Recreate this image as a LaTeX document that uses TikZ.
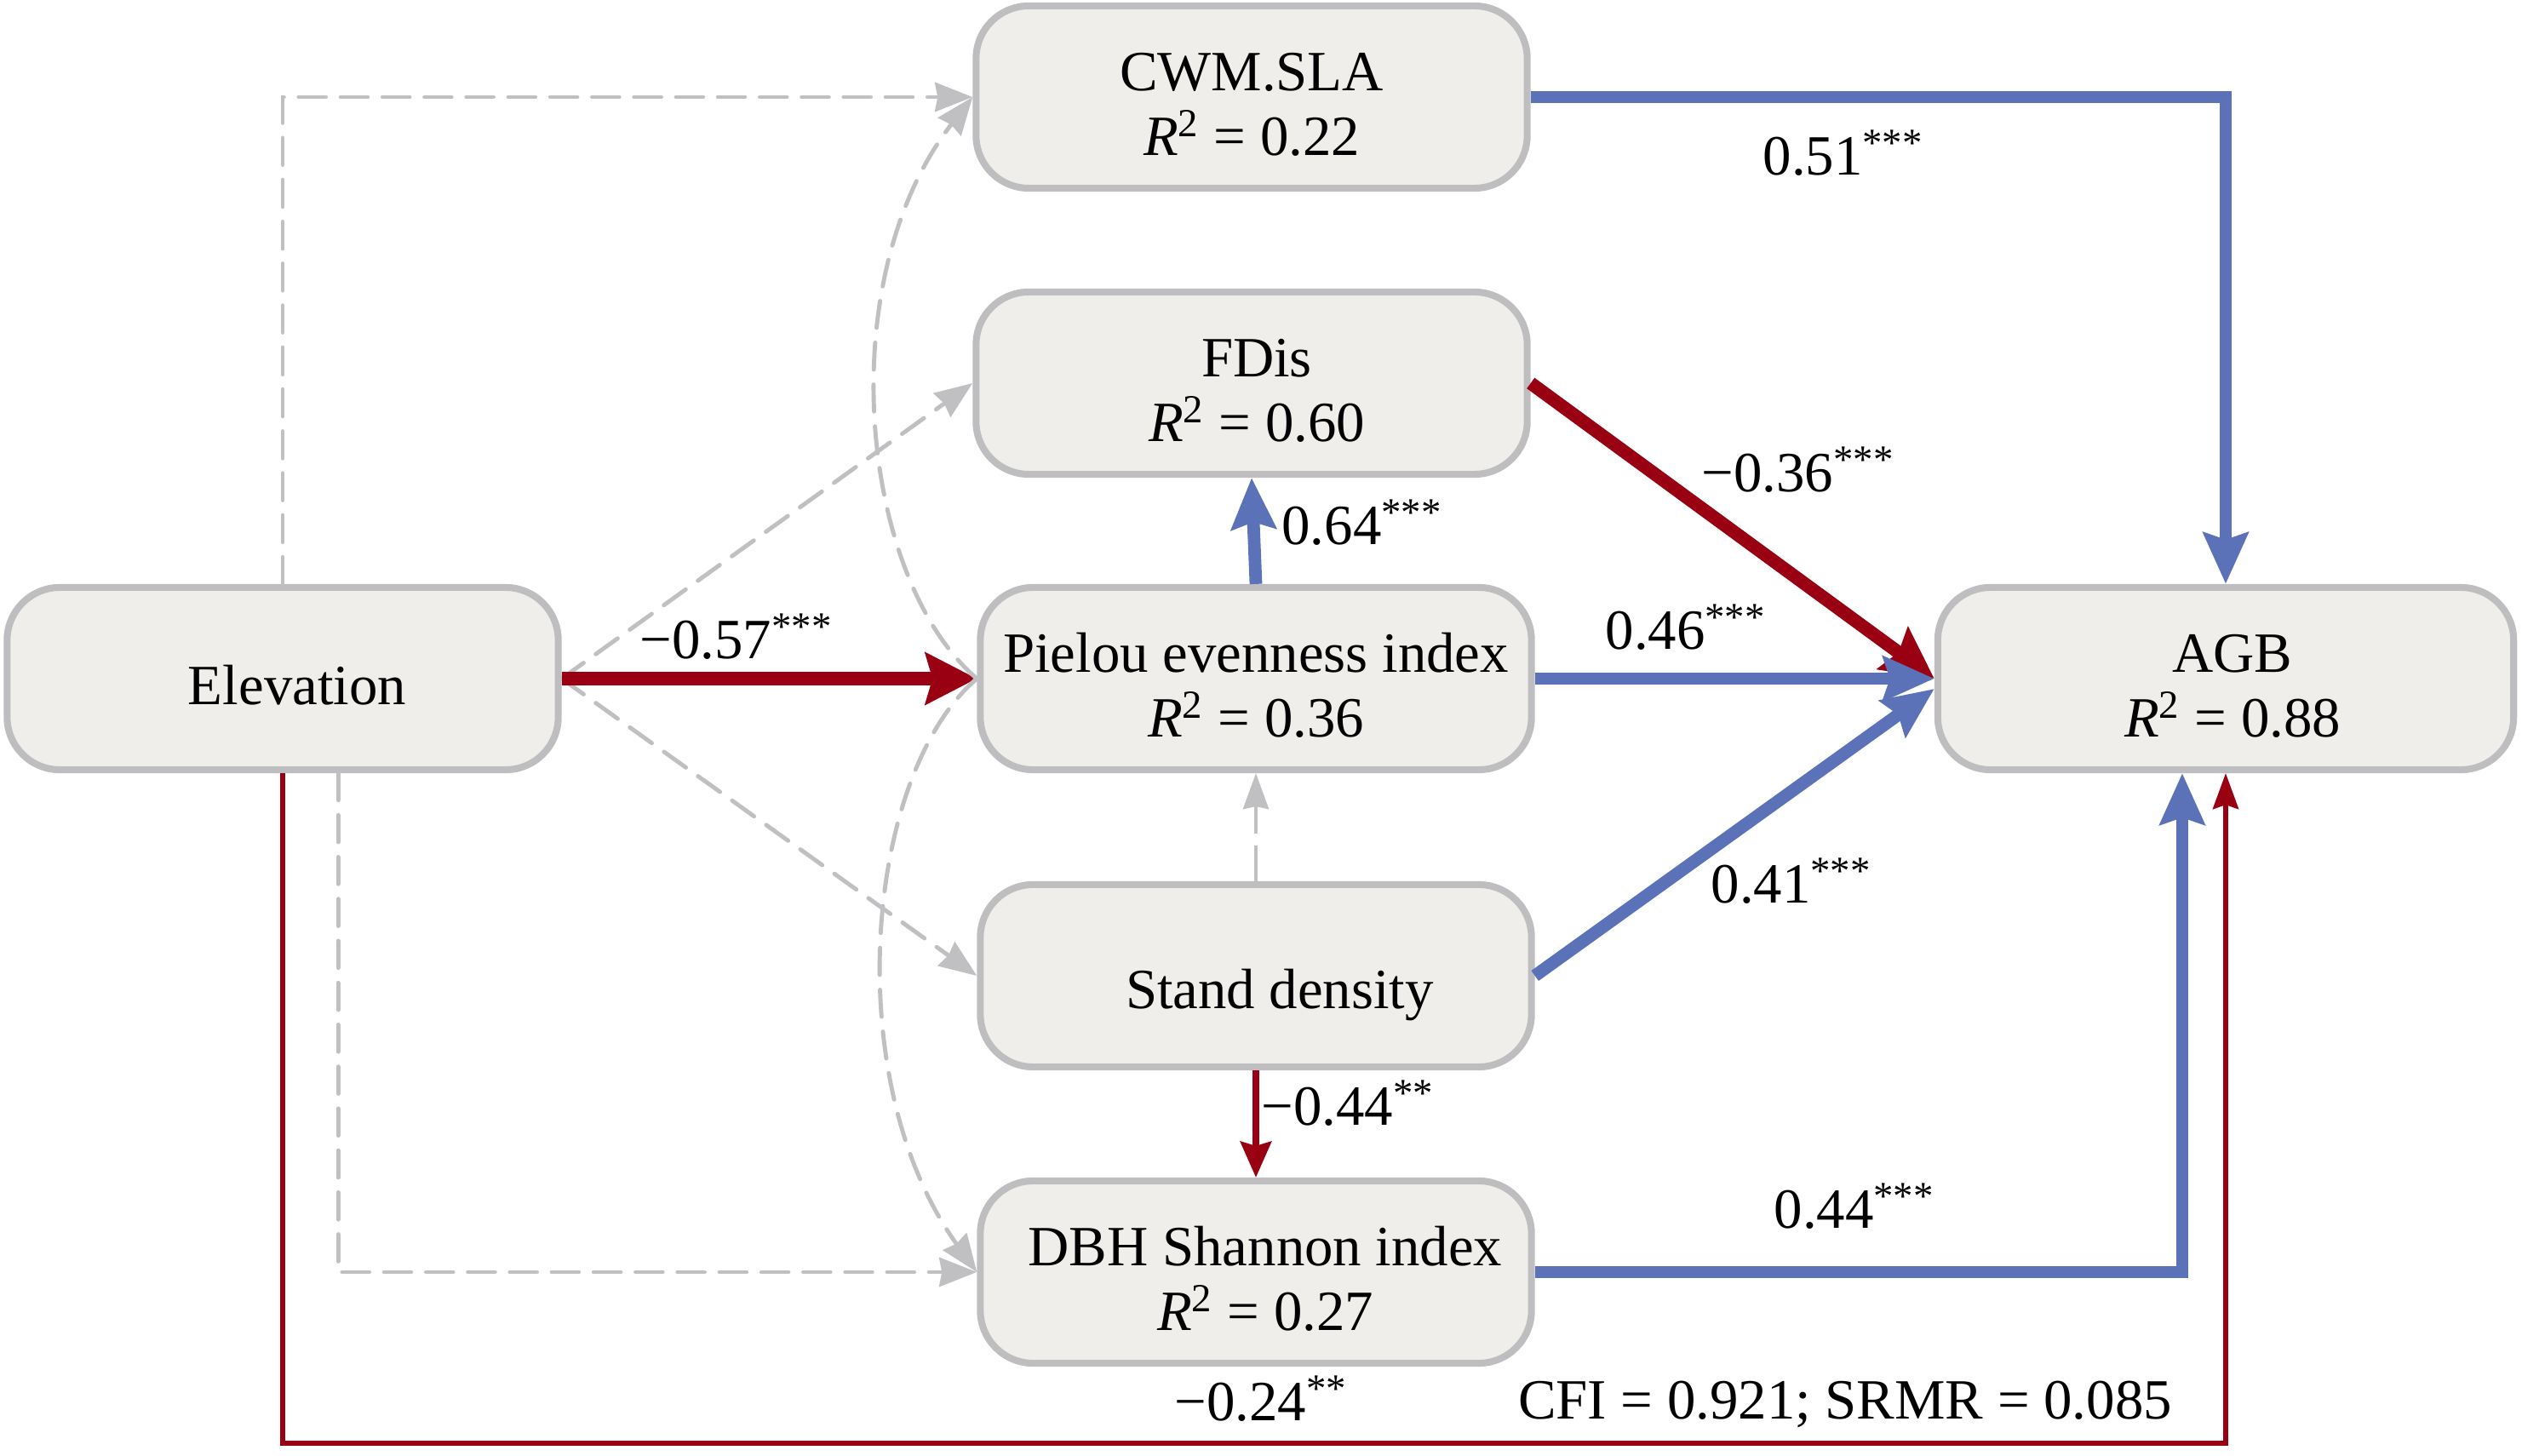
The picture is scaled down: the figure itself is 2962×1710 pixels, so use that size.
\documentclass[tikz,border=0pt]{standalone}
\usepackage{fontspec}
\setmainfont{Liberation Serif}
\usetikzlibrary{arrows.meta,calc}
\definecolor{boxfill}{RGB}{239,238,235}
\definecolor{boxline}{RGB}{190,189,192}
\definecolor{pathred}{RGB}{153,0,17}
\definecolor{pathblue}{RGB}{91,114,185}
\definecolor{dashgray}{RGB}{192,191,194}
\newcommand\RRsq{\textit{R}\textsuperscript{2}}
\newcommand\sigmark[1]{\textsuperscript{#1}}
\newcommand\tstrut[1]{\rule{0pt}{#1}}
\begin{document}
\begin{tikzpicture}[x=0.01cm,y=-0.01cm,
 box/.style={draw=boxline, fill=boxfill, line width=2.3pt, rounded corners=0.62cm,
   minimum width=6.47cm, minimum height=2.14cm, align=center, inner sep=0pt,
   font=\fontsize{19}{21.5}\selectfont},
 coef/.style={font=\fontsize{19}{22}\selectfont, inner sep=0pt},
 thickblue/.style={draw=pathblue, line width=4.2pt, -{Stealth[length=0.6cm,width=0.52cm,inset=0.08cm]}},
 thickred/.style={draw=pathred, line width=4.4pt, -{Stealth[length=0.6cm,width=0.6cm,inset=0.08cm]}},
 thinred/.style={draw=pathred, line width=1.5pt, -{Stealth[length=0.42cm,width=0.3cm,inset=0.05cm]}},
 medred/.style={draw=pathred, line width=2.1pt, -{Stealth[length=0.42cm,width=0.36cm,inset=0.05cm]}},
 gdash/.style={draw=dashgray, line width=1.4pt, line cap=round, dash pattern=on 9pt off 5pt,
   -{Stealth[length=0.44cm,width=0.34cm,inset=0.03cm]}},
 gthin/.style={draw=dashgray, line width=1pt, dash pattern=on 12pt off 4pt,
   -{Stealth[length=0.42cm,width=0.3cm,inset=0.03cm]}},
]
\useasboundingbox (0,0) rectangle (2962,1710);

% nodes
\node[box] (Elev) at (332,797) {\tstrut{17.3pt}\hspace*{0.34cm}Elevation};
\node[box] (CWM) at (1470,114) {\tstrut{17.5pt}CWM.SLA\\\RRsq{} = 0.22};
\node[box] (FDis) at (1470,450) {\tstrut{17.5pt}\hspace*{0.12cm}FDis\\\hspace*{0.12cm}\RRsq{} = 0.60};
\node[box] (Pielou) at (1475,797) {\tstrut{17.5pt}Pielou evenness index\\\RRsq{} = 0.36};
\node[box] (Stand) at (1475,1146) {\tstrut{26pt}\hspace*{0.56cm}Stand density};
\node[box] (DBH) at (1475,1494) {\tstrut{17.5pt}\hspace*{0.22cm}DBH Shannon index\\\hspace*{0.22cm}\RRsq{} = 0.27};
\node[box, minimum width=6.76cm] (AGB) at (2614,797) {\tstrut{17.5pt}\hspace*{0.16cm}AGB\\\hspace*{0.16cm}\RRsq{} = 0.88};

\coordinate (bot) at (0,1695);

% gray dashed paths
\draw[gdash] (Elev.north) |- (CWM.west);
\draw[gdash] ([xshift=0.65cm]Elev.south) |- (DBH.west);
\draw[gdash] (Elev.east) -- (FDis.west);
\draw[gdash] (Elev.east) -- (Stand.west);

% significant paths
\draw[thickred] (Elev.east) -- (Pielou.west);
\draw[thinred] (Elev.south) -- (Elev.south |- bot) -- (AGB.south |- bot) -- (AGB.south);
\draw[thickblue] (CWM.east) -| (AGB.north);
\draw[thickblue] (DBH.east) -| ([xshift=-0.51cm]AGB.south);
\draw[thickred] (FDis.east) -- (AGB.west);
\draw[thickblue] (Pielou.east) -- (AGB.west);
\draw[thickblue] (Stand.east) -- ([yshift=-0.12cm]AGB.west);
\draw[thickblue] (Pielou.north) -- (FDis.south);
\draw[gthin] (Stand.north) -- (Pielou.south);
\draw[medred] (Stand.south) -- (DBH.north);

% curved dashed paths
\draw[gdash] (Pielou.west) .. controls +(-137,-117) and +(-168,216) .. (CWM.west);
\draw[gdash] (Pielou.west) .. controls +(-132,113) and +(-162,-224) .. (DBH.west);

% coefficients
\node[coef] (c1) at (865,748) {−0.57\sigmark{***}};
\node[coef] (c2) at (2165,180) {0.51\sigmark{***}};
\node[coef] (c3) at (2112,552) {−0.36\sigmark{***}};
\node[coef] (c4) at (1600,614) {0.64\sigmark{***}};
\node[coef] (c5) at (1980,737) {0.46\sigmark{***}};
\node[coef] (c6) at (2104,1035) {0.41\sigmark{***}};
\node[coef] (c7) at (1583,1296) {−0.44\sigmark{**}};
\node[coef] (c8) at (2178,1417) {0.44\sigmark{***}};
\node[coef] (c9) at (1481,1643) {−0.24\sigmark{**}};
\node[coef] (fit) at (2167,1649) {CFI = 0.921; SRMR = 0.085};
\end{tikzpicture}
\end{document}
